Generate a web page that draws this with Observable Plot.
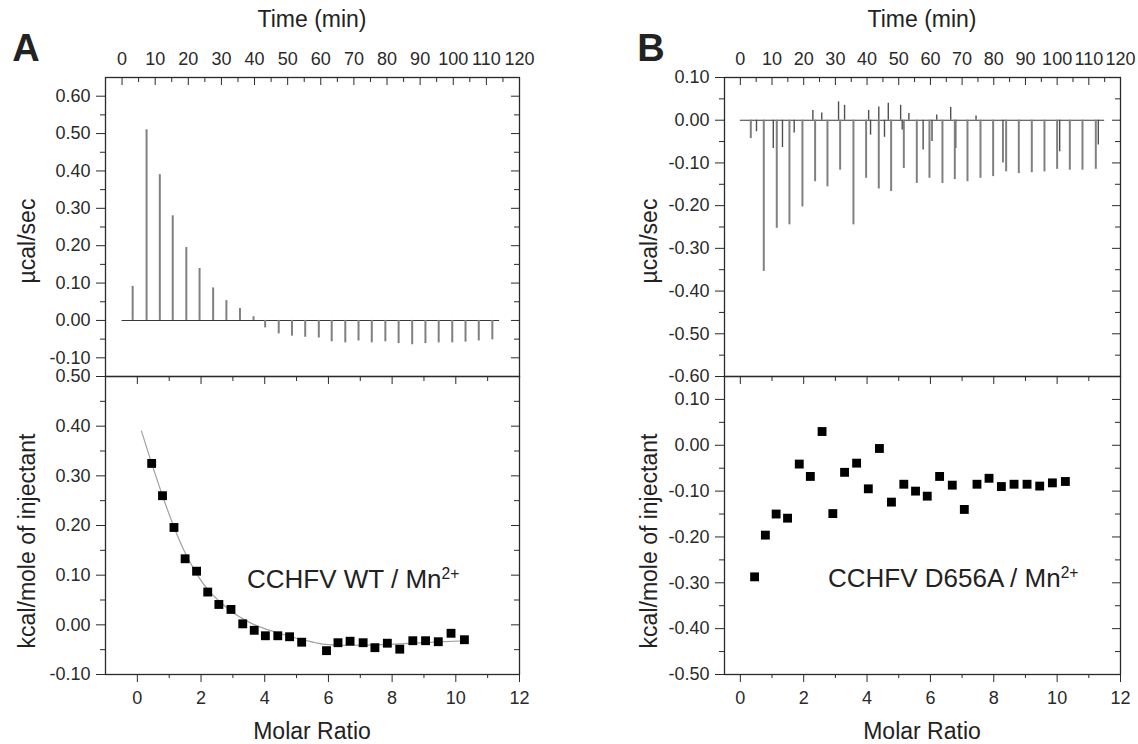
<!DOCTYPE html>
<html>
<head>
<meta charset="utf-8">
<script src="https://cdn.jsdelivr.net/npm/d3@7"></script>
<script src="https://cdn.jsdelivr.net/npm/@observablehq/plot@0.6"></script>
<style>
  body { margin: 0; background: #fff; }
  #root { position: relative; width: 1138px; height: 744px; overflow: hidden;
          font-family: 'Liberation Sans', Arial, Helvetica, sans-serif; color: #222; background: #fff; }
  .chart { position: absolute; }
  .lbl { position: absolute; white-space: nowrap; line-height: 1; transform: translate(-50%, -50%); }
  .vl { transform: translate(-50%, -50%) rotate(-90deg); }
  .ttl { font-size: 23px; }
  .tag { font-size: 38px; font-weight: bold; }
  .ann { position: absolute; white-space: nowrap; line-height: 1; font-size: 26px; }
  .ann span { font-size: 0.6em; position: relative; top: -0.6em; }
</style>
</head>
<body>
<div id="root"></div>
<script>
// ---------------- tick values ----------------
const timeTicks = [0, 10, 20, 30, 40, 50, 60, 70, 80, 90, 100, 110, 120];
const timeMinorTicks = [5, 15, 25, 35, 45, 55, 65, 75, 85, 95, 105, 115];
const molarTicks = [0, 2, 4, 6, 8, 10, 12];
const molarMinorTicks = [1, 3, 5, 7, 9, 11];
const wtPowerTicks = [-0.10, 0.00, 0.10, 0.20, 0.30, 0.40, 0.50, 0.60];
const wtPowerMinor = [-0.05, 0.05, 0.15, 0.25, 0.35, 0.45, 0.55];
const wtHeatTicks = [-0.10, 0.00, 0.10, 0.20, 0.30, 0.40, 0.50];
const wtHeatMinor = [-0.05, 0.05, 0.15, 0.25, 0.35, 0.45];
const mutPowerTicks = [-0.60, -0.50, -0.40, -0.30, -0.20, -0.10, 0.00, 0.10];
const mutPowerMinor = [-0.55, -0.45, -0.35, -0.25, -0.15, -0.05, 0.05];
const mutHeatTicks = [-0.50, -0.40, -0.30, -0.20, -0.10, 0.00, 0.10];
const mutHeatMinor = [-0.45, -0.35, -0.25, -0.15, -0.05, 0.05];

// ---------------- panel A: CCHFV WT / Mn2+ ----------------
const wtTraceStart = 0, wtTraceEnd = 114;
const wtInjTime = [3.2, 7.4, 11.4, 15.3, 19.4, 23.4, 27.5, 31.5, 35.6, 39.7, 43.2, 47.3, 51.3, 55.3,
  59.4, 63.3, 67.4, 71.4, 75.4, 79.5, 83.5, 87.6, 91.6, 95.6, 99.7, 103.7, 107.7, 111.8];
const wtInjPeak = [0.091, 0.51, 0.39, 0.28, 0.195, 0.139, 0.087, 0.053, 0.032, 0.010, -0.020, -0.036,
  -0.042, -0.045, -0.047, -0.057, -0.060, -0.055, -0.060, -0.057, -0.062, -0.065, -0.062, -0.060,
  -0.060, -0.058, -0.055, -0.052];
const wtMolar = [0.45, 0.79, 1.15, 1.50, 1.86, 2.21, 2.56, 2.94, 3.31, 3.67, 4.02, 4.41, 4.78, 5.16,
  5.94, 6.30, 6.68, 7.09, 7.46, 7.85, 8.24, 8.65, 9.05, 9.45, 9.85, 10.27];
const wtHeat = [0.325, 0.260, 0.196, 0.133, 0.108, 0.066, 0.041, 0.031, 0.002, -0.011, -0.022, -0.022,
  -0.024, -0.035, -0.052, -0.036, -0.033, -0.036, -0.046, -0.037, -0.049, -0.032, -0.032, -0.034,
  -0.017, -0.030];
const wtFitMolar = [0.13, 0.45, 0.80, 1.15, 1.50, 1.85, 2.20, 2.60, 3.00, 3.40, 3.80, 4.40, 5.00, 5.60,
  6.00, 7.00, 8.00, 9.00, 10.30];
const wtFitHeat = [0.390, 0.325, 0.258, 0.197, 0.145, 0.104, 0.072, 0.046, 0.025, 0.009, -0.003, -0.016,
  -0.027, -0.036, -0.040, -0.041, -0.039, -0.036, -0.032];

// ---------------- panel B: CCHFV D656A / Mn2+ ----------------
const mutTraceStart = 0, mutTraceEnd = 115;
const mutInjTime = [3.3, 7.4, 11.5, 15.5, 19.6, 23.6, 27.5, 31.5, 35.7, 39.7, 43.7, 47.6, 51.6, 55.7,
  59.7, 63.8, 67.7, 71.7, 75.8, 79.8, 83.9, 87.9, 92.0, 96.0, 100.0, 104.0, 108.0, 112.2];
const mutInjPeak = [-0.043, -0.354, -0.253, -0.245, -0.203, -0.144, -0.156, -0.117, -0.245, -0.136,
  -0.161, -0.167, -0.113, -0.148, -0.136, -0.148, -0.139, -0.144, -0.136, -0.132, -0.121, -0.125,
  -0.123, -0.121, -0.115, -0.117, -0.117, -0.115];
const mutNoiseTime = [5.1, 10.4, 13.3, 17.0, 41.1, 45.5, 51.1, 57.7, 60.5, 68.0, 82.9, 100.8, 113.0,
  22.9, 25.7, 31.0, 32.9, 40.5, 43.7, 46.7, 50.6, 53.2, 62.0, 66.4, 74.4];
const mutNoise = [-0.027, -0.066, -0.064, -0.030, -0.035, -0.040, -0.023, -0.070, -0.050, -0.066, -0.100,
  -0.074, -0.058, 0.023, 0.017, 0.043, 0.035, 0.023, 0.031, 0.040, 0.035, 0.016, 0.012, 0.030, 0.010];
const mutMolar = [0.45, 0.79, 1.13, 1.49, 1.86, 2.21, 2.58, 2.92, 3.29, 3.67, 4.04, 4.39, 4.77, 5.16,
  5.53, 5.90, 6.29, 6.69, 7.07, 7.47, 7.85, 8.24, 8.64, 9.05, 9.45, 9.85, 10.26];
const mutHeat = [-0.287, -0.196, -0.150, -0.159, -0.041, -0.068, 0.030, -0.149, -0.059, -0.039, -0.095,
  -0.007, -0.124, -0.085, -0.100, -0.111, -0.068, -0.087, -0.140, -0.085, -0.072, -0.090, -0.085,
  -0.085, -0.089, -0.082, -0.079];

// ---------------- tables ----------------
const wtInj = wtInjTime.map((t, i) => ({t, p: wtInjPeak[i]}));
const wtPts = wtMolar.map((m, i) => ({m, h: wtHeat[i]}));
const wtFit = wtFitMolar.map((m, i) => ({m, h: wtFitHeat[i]}));
const mutInj = mutInjTime.map((t, i) => ({t, p: mutInjPeak[i]}));
const mutNz = mutNoiseTime.map((t, i) => ({t, p: mutNoise[i]}));
const mutPts = mutMolar.map((m, i) => ({m, h: mutHeat[i]}));

const FONT = "'Liberation Sans', Arial, Helvetica, sans-serif";
const fmt2 = d => d.toFixed(2);
const ink = "#2a2a2a";
const baseStyle = {fontFamily: FONT, fontSize: "18px", color: ink, background: "transparent", overflow: "visible"};

function topPlot({width, ml, mr, xDomain, yDomain, yTicks, yMinor, marks}) {
  const height = 377, mt = 77, mb = 1;
  const pw = width - ml - mr, ph = height - mt - mb;
  return Plot.plot({
    width, height, marginLeft: ml, marginRight: mr, marginTop: mt, marginBottom: mb,
    x: {domain: xDomain}, y: {domain: yDomain},
    style: baseStyle,
    marks: [
      ...marks,
      Plot.frame({stroke: ink, strokeWidth: 1.3}),
      Plot.axisX(timeTicks, {anchor: "top", tickSize: 0, tickPadding: 13, tickFormat: d => String(d), label: null}),
      Plot.tickX(timeTicks, {x: d => d, insetBottom: ph - 8, stroke: ink}),
      Plot.tickX(timeMinorTicks, {x: d => d, insetBottom: ph - 5, stroke: ink}),
      Plot.axisY(yTicks, {anchor: "left", tickSize: 9, tickPadding: 6, tickFormat: fmt2, label: null}),
      Plot.tickY(yMinor, {y: d => d, insetLeft: -5, insetRight: pw, stroke: ink}),
      Plot.tickY(yTicks, {y: d => d, insetLeft: pw - 8, stroke: ink}),
      Plot.tickY(yMinor, {y: d => d, insetLeft: pw - 5, stroke: ink})
    ]
  });
}

function bottomPlot({width, ml, mr, xDomain, yDomain, yTicks, yMinor, marks}) {
  const height = 369, mt = 1, mb = 70;
  const pw = width - ml - mr, ph = height - mt - mb;
  return Plot.plot({
    width, height, marginLeft: ml, marginRight: mr, marginTop: mt, marginBottom: mb,
    x: {domain: xDomain}, y: {domain: yDomain},
    style: baseStyle,
    marks: [
      ...marks,
      Plot.frame({stroke: ink, strokeWidth: 1.3}),
      Plot.axisX(molarTicks, {anchor: "bottom", tickSize: 8, tickPadding: 9, tickFormat: d => String(d), label: null}),
      Plot.tickX(molarMinorTicks, {x: d => d, insetTop: ph, insetBottom: -4, stroke: ink}),
      Plot.tickX(molarTicks, {x: d => d, insetBottom: ph - 8, stroke: ink}),
      Plot.tickX(molarMinorTicks, {x: d => d, insetBottom: ph - 5, stroke: ink}),
      Plot.axisY(yTicks, {anchor: "left", tickSize: 9, tickPadding: 6, tickFormat: fmt2, label: null}),
      Plot.tickY(yMinor, {y: d => d, insetLeft: -5, insetRight: pw, stroke: ink}),
      Plot.tickY(yTicks, {y: d => d, insetLeft: pw - 8, stroke: ink}),
      Plot.tickY(yMinor, {y: d => d, insetLeft: pw - 5, stroke: ink})
    ]
  });
}

const tl = topPlot({
  width: 560, ml: 105, mr: 41, xDomain: [-5, 120], yDomain: [-0.15, 0.65],
  yTicks: wtPowerTicks, yMinor: wtPowerMinor,
  marks: [
    Plot.ruleY([0], {x1: wtTraceStart, x2: wtTraceEnd, stroke: "#3a3a3a", strokeWidth: 1.1}),
    Plot.ruleX(wtInj, {x: "t", y1: 0, y2: "p", stroke: "#808080", strokeWidth: 2})
  ]
});
const bl = bottomPlot({
  width: 560, ml: 105, mr: 41, xDomain: [-1, 12], yDomain: [-0.10, 0.50],
  yTicks: wtHeatTicks, yMinor: wtHeatMinor,
  marks: [
    Plot.line(wtFit, {x: "m", y: "h", stroke: "#a0a0a0", strokeWidth: 1.2, curve: "natural"}),
    Plot.dot(wtPts, {x: "m", y: "h", symbol: "square", r: 5, fill: "#000", stroke: "none"})
  ]
});
const tr = topPlot({
  width: 538, ml: 124, mr: 18, xDomain: [-5, 120], yDomain: [-0.60, 0.10],
  yTicks: mutPowerTicks, yMinor: mutPowerMinor,
  marks: [
    Plot.ruleY([0], {x1: mutTraceStart, x2: mutTraceEnd, stroke: "#3a3a3a", strokeWidth: 1.1}),
    Plot.ruleX(mutNz, {x: "t", y1: 0, y2: "p", stroke: "#505050", strokeWidth: 1.4}),
    Plot.ruleX(mutInj, {x: "t", y1: 0, y2: "p", stroke: "#808080", strokeWidth: 2})
  ]
});
const br = bottomPlot({
  width: 538, ml: 124, mr: 18, xDomain: [-0.5, 12], yDomain: [-0.50, 0.15],
  yTicks: mutHeatTicks, yMinor: mutHeatMinor,
  marks: [
    Plot.dot(mutPts, {x: "m", y: "h", symbol: "square", r: 5, fill: "#000", stroke: "none"})
  ]
});

const root = document.getElementById("root");
function place(svg, left, top, w) {
  const d = document.createElement("div");
  d.className = "chart";
  d.style.left = left + "px"; d.style.top = top + "px"; d.style.width = w + "px";
  d.appendChild(svg);
  root.appendChild(d);
}
place(tl, 0, 0, 560);
place(bl, 0, 375, 560);
place(tr, 600, 0, 538);
place(br, 600, 375, 538);

function label(text, cx, cy, cls) {
  const d = document.createElement("div");
  d.className = "lbl " + cls;
  d.style.left = cx + "px"; d.style.top = cy + "px";
  d.textContent = text;
  root.appendChild(d);
}
label("Time (min)", 312, 19, "ttl");
label("Time (min)", 922, 19, "ttl");
label("Molar Ratio", 312, 731, "ttl");
label("Molar Ratio", 922, 731, "ttl");
label("µcal/sec", 27, 241, "ttl vl");
label("µcal/sec", 649, 241, "ttl vl");
label("kcal/mole of injectant", 27, 541, "ttl vl");
label("kcal/mole of injectant", 649, 541, "ttl vl");
label("A", 26, 48, "tag");
label("B", 651, 48, "tag");

function annotate(main, sup, left, baseline) {
  const d = document.createElement("div");
  d.className = "ann";
  d.style.left = left + "px";
  d.style.top = (baseline - 0.8465 * 26) + "px";
  d.appendChild(document.createTextNode(main));
  const s = document.createElement("span");
  s.textContent = sup;
  d.appendChild(s);
  root.appendChild(d);
}
annotate("CCHFV WT / Mn", "2+", 247, 588);
annotate("CCHFV D656A / Mn", "2+", 828, 587);
</script>
</body>
</html>
